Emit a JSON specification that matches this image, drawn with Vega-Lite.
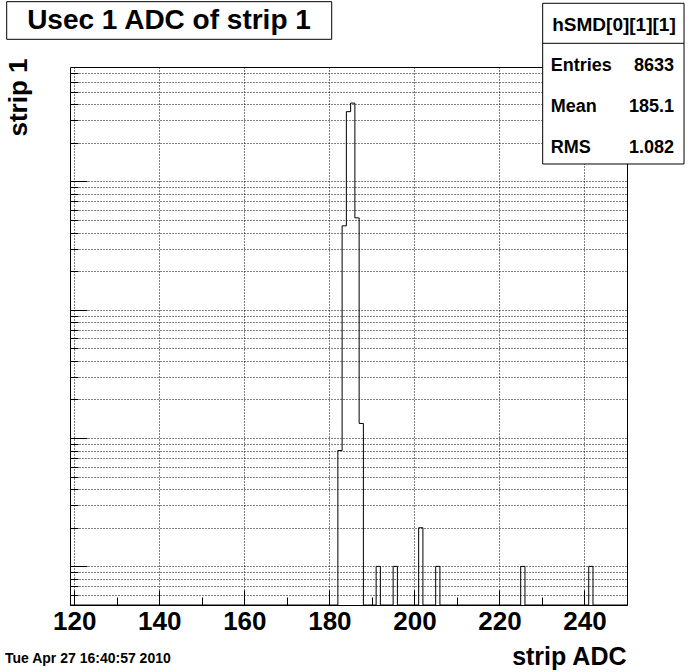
{
  "$schema": "https://vega.github.io/schema/vega-lite/v6.json",
  "width": 557,
  "height": 538,
  "autosize": {"type": "none"},
  "padding": {"left": 70, "top": 67, "right": 69, "bottom": 67},
  "background": "white",
  "config": {"view": {"stroke": "black", "strokeWidth": 1}, "font": "Liberation Sans"},
  "data": {"values": [
    {"b":119,"n":0},{"b":120,"n":0},{"b":121,"n":0},{"b":122,"n":0},{"b":123,"n":0},{"b":124,"n":0},{"b":125,"n":0},{"b":126,"n":0},{"b":127,"n":0},{"b":128,"n":0},
    {"b":129,"n":0},{"b":130,"n":0},{"b":131,"n":0},{"b":132,"n":0},{"b":133,"n":0},{"b":134,"n":0},{"b":135,"n":0},{"b":136,"n":0},{"b":137,"n":0},{"b":138,"n":0},
    {"b":139,"n":0},{"b":140,"n":0},{"b":141,"n":0},{"b":142,"n":0},{"b":143,"n":0},{"b":144,"n":0},{"b":145,"n":0},{"b":146,"n":0},{"b":147,"n":0},{"b":148,"n":0},
    {"b":149,"n":0},{"b":150,"n":0},{"b":151,"n":0},{"b":152,"n":0},{"b":153,"n":0},{"b":154,"n":0},{"b":155,"n":0},{"b":156,"n":0},{"b":157,"n":0},{"b":158,"n":0},
    {"b":159,"n":0},{"b":160,"n":0},{"b":161,"n":0},{"b":162,"n":0},{"b":163,"n":0},{"b":164,"n":0},{"b":165,"n":0},{"b":166,"n":0},{"b":167,"n":0},{"b":168,"n":0},
    {"b":169,"n":0},{"b":170,"n":0},{"b":171,"n":0},{"b":172,"n":0},{"b":173,"n":0},{"b":174,"n":0},{"b":175,"n":0},{"b":176,"n":0},{"b":177,"n":0},{"b":178,"n":0},
    {"b":179,"n":0},{"b":180,"n":0},{"b":181,"n":0},{"b":182,"n":8},{"b":183,"n":451},{"b":184,"n":3500},{"b":185,"n":4080},{"b":186,"n":520},{"b":187,"n":13},{"b":188,"n":0},
    {"b":189,"n":0},{"b":190,"n":0},{"b":191,"n":1},{"b":192,"n":0},{"b":193,"n":0},{"b":194,"n":0},{"b":195,"n":1},{"b":196,"n":0},{"b":197,"n":0},{"b":198,"n":0},
    {"b":199,"n":0},{"b":200,"n":0},{"b":201,"n":2},{"b":202,"n":0},{"b":203,"n":0},{"b":204,"n":0},{"b":205,"n":1},{"b":206,"n":0},{"b":207,"n":0},{"b":208,"n":0},
    {"b":209,"n":0},{"b":210,"n":0},{"b":211,"n":0},{"b":212,"n":0},{"b":213,"n":0},{"b":214,"n":0},{"b":215,"n":0},{"b":216,"n":0},{"b":217,"n":0},{"b":218,"n":0},
    {"b":219,"n":0},{"b":220,"n":0},{"b":221,"n":0},{"b":222,"n":0},{"b":223,"n":0},{"b":224,"n":0},{"b":225,"n":1},{"b":226,"n":0},{"b":227,"n":0},{"b":228,"n":0},
    {"b":229,"n":0},{"b":230,"n":0},{"b":231,"n":0},{"b":232,"n":0},{"b":233,"n":0},{"b":234,"n":0},{"b":235,"n":0},{"b":236,"n":0},{"b":237,"n":0},{"b":238,"n":0},
    {"b":239,"n":0},{"b":240,"n":0},{"b":241,"n":1},{"b":242,"n":0},{"b":243,"n":0},{"b":244,"n":0},{"b":245,"n":0},{"b":246,"n":0},{"b":247,"n":0},{"b":248,"n":0},
    {"b":249,"n":0},{"b":250,"n":0}
  ]},
  "resolve": {"scale": {"y": "independent"}, "axis": {"y": "independent"}},
  "layer": [
    {
      "mark": {"type": "line", "interpolate": "step-after", "color": "black", "strokeWidth": 1},
      "encoding": {
        "x": {
          "field": "b", "type": "quantitative",
          "scale": {"domain": [119, 250], "nice": false, "zero": false},
          "axis": {
            "orient": "bottom",
            "values": [120,125,130,135,140,145,150,155,160,165,170,175,180,185,190,195,200,205,210,215,220,225,230,235,240,245,250],
            "domain": false,
            "tickColor": "black", "tickWidth": 1,
            "tickSize": {"condition": {"test": "datum.value % 20 == 0", "value": -15}, "value": -8},
            "grid": true, "gridColor": "black", "gridDash": [1, 2], "gridWidth": 1,
            "gridOpacity": {"condition": {"test": "datum.value % 20 == 0", "value": 1}, "value": 0},
            "labelExpr": "datum.value % 20 == 0 ? datum.label : ''",
            "labelFont": "Liberation Sans", "labelFontWeight": "bold", "labelFontSize": 26, "labelColor": "black",
            "labelBaseline": "alphabetic", "labelPadding": 39, "labelFlush": false, "labelOverlap": false, "labelBound": false,
            "title": "strip ADC", "titleFont": "Liberation Sans", "titleFontWeight": "bold", "titleFontSize": 25, "titleColor": "black",
            "titleAlign": "right", "titleBaseline": "alphabetic", "titleX": 556, "titleY": 59, "titleAnchor": "end"
          }
        },
        "y": {
          "field": "n", "type": "quantitative",
          "scale": {"type": "log", "domain": [0.5, 7800], "nice": false, "clamp": true},
          "axis": {
            "orient": "left",
            "values": [0.6,0.7,0.8,0.9,1,2,3,4,5,6,7,8,9,10,20,30,40,50,60,70,80,90,100,200,300,400,500,600,700,800,900,1000,2000,3000,4000,5000,6000,7000],
            "domain": false, "labels": false,
            "tickColor": "black", "tickWidth": 1,
            "tickSize": {"condition": {"test": "datum.value == 1 || datum.value == 10 || datum.value == 100 || datum.value == 1000", "value": -17}, "value": -8},
            "grid": true, "gridColor": "black", "gridDash": [1, 2], "gridWidth": 1, "gridOpacity": 1,
            "title": "strip 1", "titleFont": "Liberation Sans", "titleFontWeight": "bold", "titleFontSize": 26, "titleColor": "black",
            "titleAngle": -90, "titleAlign": "right", "titleBaseline": "alphabetic", "titleX": -44, "titleY": -9
          }
        }
      }
    },
    {
      "layer": [
        {
          "data": {"values": [{}]},
          "mark": {"type": "rect", "fill": "white", "stroke": "black", "strokeWidth": 1},
          "encoding": {
            "x": {"datum": 104.11, "type": "quantitative"},
            "x2": {"datum": 180.55},
            "y": {"datum": 25190, "type": "quantitative", "scale": {"type": "log", "domain": [0.5, 7800], "nice": false}, "axis": null},
            "y2": {"datum": 12823}
          }
        },
        {
          "data": {"values": [{}]},
          "mark": {"type": "text", "align": "center", "baseline": "alphabetic", "font": "Liberation Sans", "fontWeight": "bold", "fontSize": 28, "color": "black"},
          "encoding": {
            "x": {"datum": 142.28, "type": "quantitative"},
            "y": {"datum": 15290, "type": "quantitative"},
            "text": {"value": "Usec 1 ADC of strip 1"}
          }
        },
        {
          "data": {"values": [{}]},
          "mark": {"type": "rect", "fill": "white", "stroke": "black", "strokeWidth": 1},
          "encoding": {
            "x": {"datum": 230.17, "type": "quantitative"},
            "x2": {"datum": 263.41},
            "y": {"datum": 24470, "type": "quantitative"},
            "y2": {"datum": 1368}
          }
        },
        {
          "data": {"values": [{}]},
          "mark": {"type": "rule", "color": "black", "strokeWidth": 1},
          "encoding": {
            "x": {"datum": 230.17, "type": "quantitative"},
            "x2": {"datum": 263.41},
            "y": {"datum": 11934, "type": "quantitative"}
          }
        },
        {
          "data": {"values": [{}]},
          "mark": {"type": "text", "align": "center", "baseline": "alphabetic", "font": "Liberation Sans", "fontWeight": "bold", "fontSize": 19, "color": "black"},
          "encoding": {
            "x": {"datum": 246.94, "type": "quantitative"},
            "y": {"datum": 14885, "type": "quantitative"},
            "text": {"value": "hSMD[0][1][1]"}
          }
        },
        {
          "data": {"values": [{}]},
          "mark": {"type": "text", "align": "left", "baseline": "alphabetic", "font": "Liberation Sans", "fontWeight": "bold", "fontSize": 18, "color": "black"},
          "encoding": {"x": {"datum": 232.06, "type": "quantitative"}, "y": {"datum": 7300, "type": "quantitative"}, "text": {"value": "Entries"}}
        },
        {
          "data": {"values": [{}]},
          "mark": {"type": "text", "align": "right", "baseline": "alphabetic", "font": "Liberation Sans", "fontWeight": "bold", "fontSize": 18, "color": "black"},
          "encoding": {"x": {"datum": 261.05, "type": "quantitative"}, "y": {"datum": 7300, "type": "quantitative"}, "text": {"value": "8633"}}
        },
        {
          "data": {"values": [{}]},
          "mark": {"type": "text", "align": "left", "baseline": "alphabetic", "font": "Liberation Sans", "fontWeight": "bold", "fontSize": 18, "color": "black"},
          "encoding": {"x": {"datum": 232.06, "type": "quantitative"}, "y": {"datum": 3500, "type": "quantitative"}, "text": {"value": "Mean"}}
        },
        {
          "data": {"values": [{}]},
          "mark": {"type": "text", "align": "right", "baseline": "alphabetic", "font": "Liberation Sans", "fontWeight": "bold", "fontSize": 18, "color": "black"},
          "encoding": {"x": {"datum": 261.05, "type": "quantitative"}, "y": {"datum": 3500, "type": "quantitative"}, "text": {"value": "185.1"}}
        },
        {
          "data": {"values": [{}]},
          "mark": {"type": "text", "align": "left", "baseline": "alphabetic", "font": "Liberation Sans", "fontWeight": "bold", "fontSize": 18, "color": "black"},
          "encoding": {"x": {"datum": 232.06, "type": "quantitative"}, "y": {"datum": 1680, "type": "quantitative"}, "text": {"value": "RMS"}}
        },
        {
          "data": {"values": [{}]},
          "mark": {"type": "text", "align": "right", "baseline": "alphabetic", "font": "Liberation Sans", "fontWeight": "bold", "fontSize": 18, "color": "black"},
          "encoding": {"x": {"datum": 261.05, "type": "quantitative"}, "y": {"datum": 1680, "type": "quantitative"}, "text": {"value": "1.082"}}
        },
        {
          "data": {"values": [{}]},
          "mark": {"type": "text", "align": "left", "baseline": "alphabetic", "font": "Liberation Sans", "fontWeight": "bold", "fontSize": 14, "color": "black"},
          "encoding": {"x": {"datum": 103.71, "type": "quantitative"}, "y": {"datum": 0.175, "type": "quantitative"}, "text": {"value": "Tue Apr 27 16:40:57 2010"}}
        }
      ]
    }
  ]
}
